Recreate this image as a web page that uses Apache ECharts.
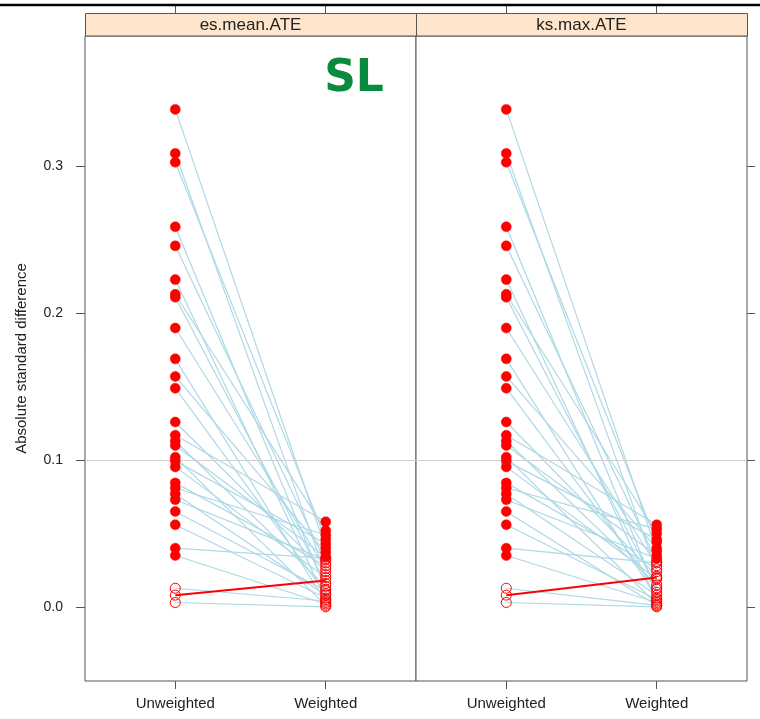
<!DOCTYPE html>
<html><head><meta charset="utf-8">
<script src="https://cdn.jsdelivr.net/npm/echarts@6/dist/echarts.min.js"></script>
<style>html,body{margin:0;padding:0;background:#fff}#c{width:760px;height:719px}</style>
</head><body><div id="c"></div>
<script>
// ---- data ----
var panels = ['es.mean.ATE', 'ks.max.ATE'];
var categories = ['Unweighted', 'Weighted'];
var yTicks = [0, 0.1, 0.2, 0.3];
// unweighted absolute standard differences (same in both panels)
var unweighted = [0.339, 0.309, 0.303, 0.259, 0.246, 0.223, 0.213, 0.211, 0.190, 0.169,
                  0.157, 0.149, 0.126, 0.117, 0.113, 0.110, 0.102, 0.0995, 0.0954, 0.0845,
                  0.081, 0.077, 0.073, 0.065, 0.056, 0.040, 0.035, 0.0127, 0.008, 0.003];
var unweightedSig = [1,1,1,1,1,1,1,1,1,1, 1,1,1,1,1,1,1,1,1,1, 1,1,1,1,1,1,1,0,0,0];
// weighted values, es.mean.ATE
var weightedES = [0.040, 0.022, 0.046, 0.012, 0.030, 0.005, 0.052, 0.016, 0.026, 0.003,
                  0.037, 0.009, 0.024, 0.058, 0.014, 0.034, 0.001, 0.043, 0.020, 0.028,
                  0.049, 0.008, 0.032, 0.011, 0.006, 0.033, 0.002, 0.004, 0.018, 0.000];
var weightedESSig = [1,0,1,0,0,0,1,0,0,0, 1,0,0,1,0,1,0,1,0,0, 1,0,0,0,0,0,0,0,0,0];
// weighted values, ks.max.ATE
var weightedKS = [0.038, 0.024, 0.044, 0.010, 0.031, 0.004, 0.050, 0.013, 0.028, 0.006,
                  0.040, 0.012, 0.021, 0.056, 0.015, 0.035, 0.002, 0.046, 0.019, 0.026,
                  0.053, 0.008, 0.033, 0.001, 0.005, 0.030, 0.003, 0.001, 0.020, 0.000];
var weightedKSSig = [1,0,1,0,0,0,1,0,0,0, 1,0,0,1,0,1,0,1,0,0, 1,0,1,0,0,0,0,0,0,0];
// covariates whose difference increased after weighting (drawn red)
var increased = [0,0,0,0,0,0,0,0,0,0, 0,0,0,0,0,0,0,0,0,0, 0,0,0,0,0,0,0,0,1,0];
var refLine = 0.1;

// ---- chart ----
var FONT = 'Liberation Sans, Arial, sans-serif';
var chart = echarts.init(document.getElementById('c'), null, {renderer: 'canvas'});
var weighted = [weightedES, weightedKS];
var weightedSig = [weightedESSig, weightedKSSig];
var gridLeft = [85, 416], gridW = 331, gridTop = 36, gridH = 645;
var yMin = -0.0505, yMax = 0.389, xMin = 0.4, xMax = 2.6;

var grids = [], xAxes = [], yAxes = [], series = [], graphics = [];
panels.forEach(function (name, p) {
  grids.push({left: gridLeft[p], top: gridTop, width: gridW, height: gridH, show: true,
              borderColor: '#555', borderWidth: 1, backgroundColor: '#fff'});
  // bottom axis
  xAxes.push({type: 'value', gridIndex: p, min: xMin, max: xMax, position: 'bottom',
    axisLine: {show: false, onZero: false}, splitLine: {show: false},
    axisTick: {show: true, length: 8, lineStyle: {color: '#555'}, customValues: [1, 2]},
    axisLabel: {show: true, customValues: [1, 2], margin: 15, fontSize: 15, fontFamily: FONT, color: '#222',
      formatter: function (v) { return categories[Math.round(v) - 1]; }}});
  // main y axis
  yAxes.push({type: 'value', gridIndex: p, min: yMin, max: yMax, position: 'left',
    axisLine: {show: false, onZero: false}, splitLine: {show: false},
    axisTick: {show: p === 0, length: 9, lineStyle: {color: '#555'}, customValues: yTicks},
    axisLabel: {show: p === 0, customValues: yTicks, margin: 22, fontSize: 14, fontFamily: FONT, color: '#222',
      formatter: function (v) { return v.toFixed(1); }},
    name: p === 0 ? 'Absolute standard difference' : '', nameLocation: 'middle', nameGap: 56,
    nameTextStyle: {fontSize: 15, fontFamily: FONT, color: '#222'}});
});
// top tick axes (above strips)
panels.forEach(function (name, p) {
  xAxes.push({type: 'value', gridIndex: p, min: xMin, max: xMax, position: 'top', offset: 23,
    axisLine: {show: false, onZero: false}, splitLine: {show: false}, axisLabel: {show: false},
    axisTick: {show: true, length: 8, lineStyle: {color: '#555'}, customValues: [1, 2]}});
});
// right tick axis on right panel
yAxes.push({type: 'value', gridIndex: 1, min: yMin, max: yMax, position: 'right',
  axisLine: {show: false, onZero: false}, splitLine: {show: false}, axisLabel: {show: false},
  axisTick: {show: true, length: 8, lineStyle: {color: '#555'}, customValues: yTicks}});

panels.forEach(function (name, p) {
  // reference line
  series.push({type: 'line', xAxisIndex: p, yAxisIndex: p, data: [], silent: true, z: 1,
    markLine: {silent: true, symbol: 'none', animation: false, label: {show: false},
      lineStyle: {color: '#cfcfcf', width: 1, type: 'solid'}, data: [{yAxis: refLine}]}});
  for (var i = 0; i < unweighted.length; i++) {
    var red = increased[i] === 1;
    series.push({type: 'line', xAxisIndex: p, yAxisIndex: p, showSymbol: false, silent: true,
      z: red ? 4 : 2, animation: false,
      lineStyle: {color: red ? '#ff0000' : '#add8e6', width: red ? 2 : 1.2},
      data: [[1, unweighted[i]], [2, weighted[p][i]]]});
  }
  var filled = [], open = [];
  for (var j = 0; j < unweighted.length; j++) {
    (unweightedSig[j] ? filled : open).push([1, unweighted[j]]);
    (weightedSig[p][j] ? filled : open).push([2, weighted[p][j]]);
  }
  series.push({type: 'scatter', xAxisIndex: p, yAxisIndex: p, silent: true, z: 5, animation: false,
    symbol: 'circle', symbolSize: 10, data: open,
    itemStyle: {color: 'rgba(255,255,255,0)', borderColor: '#ff0000', borderWidth: 1, opacity: 1}});
  series.push({type: 'scatter', xAxisIndex: p, yAxisIndex: p, silent: true, z: 6, animation: false,
    symbol: 'circle', symbolSize: 10, data: filled,
    itemStyle: {color: '#ff0000', borderColor: '#ff0000', borderWidth: 0.5, opacity: 1}});

  // strip
  graphics.push({type: 'rect', shape: {x: gridLeft[p] + 0.5, y: 13.5, width: gridW, height: 22.5},
    style: {fill: '#ffe5cc', stroke: '#555', lineWidth: 1}, z: 10});
  graphics.push({type: 'text', x: gridLeft[p] + gridW / 2, y: 25,
    style: {text: name, fontSize: 17, fontFamily: FONT, fill: '#222', align: 'center', verticalAlign: 'middle'}, z: 11});
});
graphics.push({type: 'line', shape: {x1: 0, y1: 5, x2: 760, y2: 5}, style: {stroke: '#000', lineWidth: 2.5}, z: 12});
graphics.push({type: 'text', x: 354, y: 80,
  style: {text: 'SL', fontSize: 44, fontWeight: 'bold', fontFamily: 'DejaVu Sans, sans-serif', fill: '#0a8a3c',
    align: 'center', verticalAlign: 'middle'}, z: 12});

chart.setOption({
  animation: false,
  backgroundColor: '#fff',
  grid: grids, xAxis: xAxes, yAxis: yAxes, series: series, graphic: graphics
});
</script></body></html>
